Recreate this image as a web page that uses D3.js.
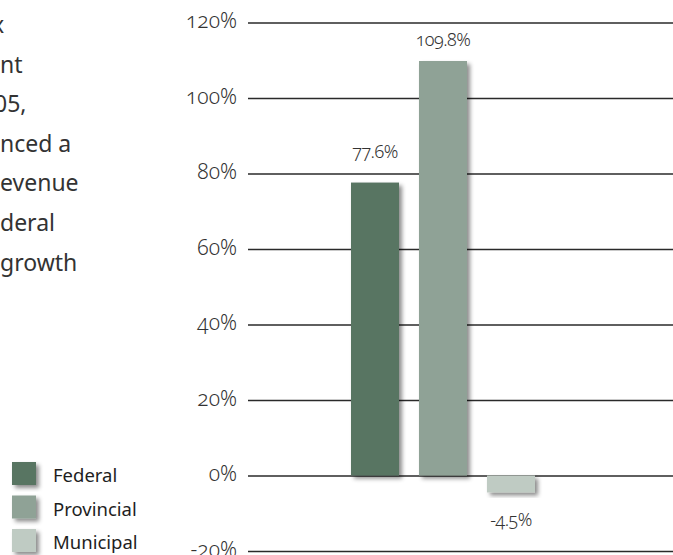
<!DOCTYPE html>
<html>
<head>
<meta charset="utf-8">
<script src="https://cdn.jsdelivr.net/npm/d3@7/dist/d3.min.js"></script>
<style>
  html, body { margin: 0; padding: 0; background: #fff; }
  svg { display: block; }
  text { font-family: "Noto Sans", "Open Sans", sans-serif; }
  .num { font-variant-numeric: oldstyle-nums; }
</style>
</head>
<body>
<svg id="chart" width="673" height="555"></svg>
<script>
// Growth in revenue by order of government
const categories = ["Federal", "Provincial", "Municipal"];
const growth = [77.6, 109.8, -4.5];
const valueLabels = ["77.6%", "109.8%", "-4.5%"];
const tickValues = [-20, 0, 20, 40, 60, 80, 100, 120];
const tickLabels = ["-20%", "0%", "20%", "40%", "60%", "80%", "100%", "120%"];
const colors = ["#587462", "#8fa296", "#bfcbc3"];
// Tail of the accompanying paragraph, cut by the left edge
const paragraphLines = ["x", "nt", "05,", "nced a", "evenue", "deral", "growth"];

const svg = d3.select("#chart");

const defs = svg.append("defs");
const shadow = defs.append("filter").attr("id", "shadow")
  .attr("x", "-20%").attr("y", "-20%").attr("width", "150%").attr("height", "150%");
shadow.append("feDropShadow")
  .attr("dx", 3).attr("dy", 3).attr("stdDeviation", 2.2)
  .attr("flood-color", "#000").attr("flood-opacity", 0.45);

const y = d3.scaleLinear().domain([-20, 120]).range([551, 22.5]);
const x = d3.scaleBand().domain(categories).range([351, 535])
  .paddingInner(20 / 68).paddingOuter(0);

// Gridlines and tick labels
const axis = d3.axisLeft(y)
  .tickValues(tickValues)
  .tickSize(-425)
  .tickPadding(11)
  .tickFormat(d => tickLabels[tickValues.indexOf(d)]);

const gAxis = svg.append("g").attr("transform", "translate(248,0)").call(axis);
gAxis.select(".domain").remove();
gAxis.selectAll(".tick line").attr("stroke", "#2a2a2a").attr("stroke-width", 1.5);
gAxis.selectAll(".tick text")
  .attr("class", "num")
  .attr("fill", "#333")
  .attr("font-size", 21)
  .attr("font-weight", 300)
  .attr("dy", "0.24em");

// Bars
svg.append("g").selectAll("rect")
  .data(categories)
  .join("rect")
  .attr("x", d => x(d))
  .attr("width", x.bandwidth())
  .attr("y", (d, i) => y(Math.max(0, growth[i])))
  .attr("height", (d, i) => Math.abs(y(growth[i]) - y(0)))
  .attr("fill", (d, i) => colors[i])
  .attr("filter", "url(#shadow)");

// Value labels, above positive bars and below negative ones
const labelNudge = [-5, 5, 0];
svg.append("g").selectAll("text")
  .data(categories)
  .join("text")
  .attr("class", "num")
  .attr("x", d => x(d) + x.bandwidth() / 2)
  .attr("y", (d, i) => (growth[i] >= 0 ? y(growth[i]) - 20 : y(growth[i]) + 34) + labelNudge[i])
  .attr("text-anchor", "middle")
  .attr("font-size", 18)
  .attr("font-weight", 300)
  .attr("fill", "#333")
  .attr("letter-spacing", -0.5)
  .text((d, i) => valueLabels[i]);

// Legend
const legend = svg.append("g").selectAll("g")
  .data(categories)
  .join("g")
  .attr("transform", (d, i) => `translate(12,${462 + i * 33.5})`);
legend.append("rect")
  .attr("width", 24).attr("height", 23)
  .attr("fill", (d, i) => colors[i])
  .attr("filter", "url(#shadow)");
legend.append("text")
  .attr("x", 41).attr("y", 20)
  .attr("font-size", 18.5)
  .attr("fill", "#1e1e1e")
  .text(d => d);

// Paragraph fragment
svg.append("g").selectAll("text")
  .data(paragraphLines)
  .join("text")
  .attr("x", (d, i) => i === 0 ? -8 : (i === 2 ? -6 : 0))
  .attr("y", (d, i) => 33 + i * 39.6)
  .attr("font-size", 23)
  .attr("fill", "#333")
  .text(d => d);
</script>
</body>
</html>
